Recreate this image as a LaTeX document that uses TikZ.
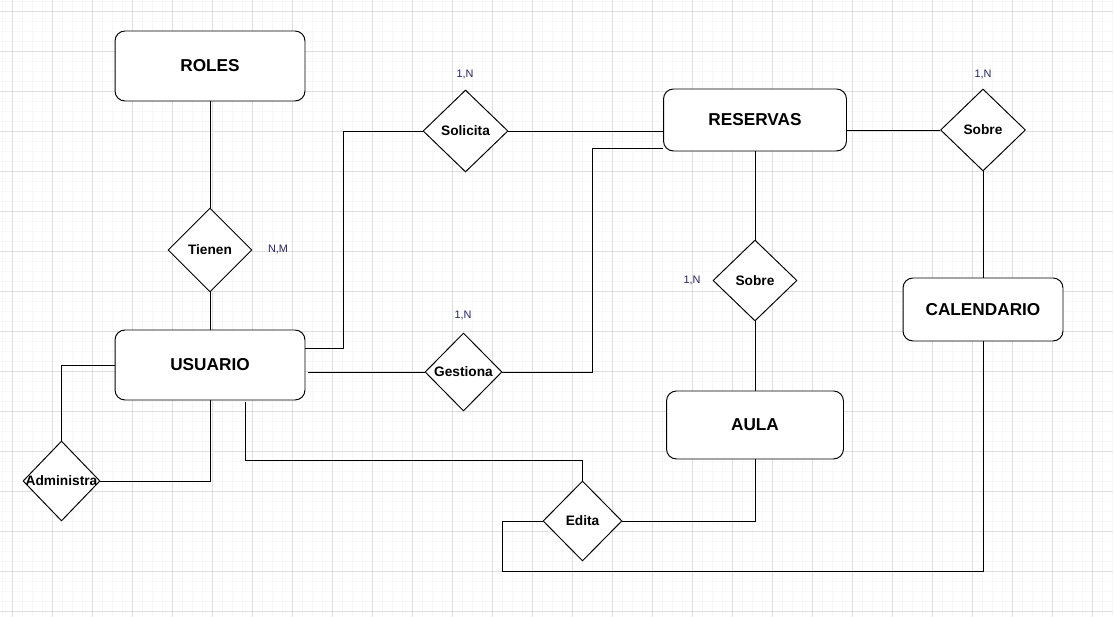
\documentclass[tikz,border=0pt]{standalone}
\usepackage{fontspec}
\setmainfont{Liberation Sans}
\usetikzlibrary{shapes.geometric}
\definecolor{gridmajor}{RGB}{222,222,222}
\definecolor{gridminor}{RGB}{247,247,247}
\definecolor{cardtext}{RGB}{36,36,104}
\begin{document}
\begin{tikzpicture}[x=0.02cm, y=-0.02cm, line width=0.55pt,
    entity/.style={draw, fill=white, rounded corners=2mm, inner sep=0pt,
        font=\fontsize{9.8}{12}\selectfont\bfseries},
    relation/.style={draw, fill=white, diamond, aspect=1, inner sep=0pt,
        font=\fontsize{7.8}{9}\selectfont\bfseries},
    card/.style={text=cardtext, inner sep=0pt, font=\fontsize{6.2}{7}\selectfont}]

    % Background grid
    \useasboundingbox (0,0) rectangle (1113,617);
    \fill[white] (0,0) rectangle (1113,617);
    \foreach \i in {0,...,111}
        \draw[gridminor, line width=0.5pt] (2.3+10*\i,0) -- ++(0,617);
    \foreach \i in {0,...,61}
        \draw[gridminor, line width=0.5pt] (0,1.3+10*\i) -- ++(1113,0);
    \foreach \i in {0,...,27}
        \draw[gridmajor, line width=0.5pt] (12.3+40*\i,0) -- ++(0,617);
    \foreach \i in {0,...,15}
        \draw[gridmajor, line width=0.5pt] (0,11.3+40*\i) -- ++(1113,0);

    % Entities
    \node[entity, minimum width=3.8cm, minimum height=1.4cm] (roles) at (210,66) {ROLES};
    \node[entity, minimum width=3.8cm, minimum height=1.4cm] (usuario) at (210,365) {USUARIO};
    \node[entity, minimum width=3.66cm, minimum height=1.24cm] (reservas) at (755,120) {RESERVAS};
    \node[entity, minimum width=3.2cm, minimum height=1.26cm] (calendario) at (983,309.5) {CALENDARIO};
    \node[entity, minimum width=3.54cm, minimum height=1.36cm] (aula) at (755,425) {AULA};

    % Relations
    \node[relation, minimum width=1.68cm, minimum height=1.68cm] (tienen) at (210,250) {Tienen};
    \node[relation, minimum width=1.7cm, minimum height=1.64cm] (solicita) at (465.5,131) {Solicita};
    \node[relation, minimum width=1.7cm, minimum height=1.64cm] (sobrecal) at (983,130) {Sobre};
    \node[relation, minimum width=1.68cm, minimum height=1.62cm] (sobreaula) at (755,280.5) {Sobre};
    \node[relation, minimum width=1.54cm, minimum height=1.56cm] (gestiona) at (463.5,372) {Gestiona};
    \node[relation, minimum width=1.54cm, minimum height=1.6cm] (administra) at (61.5,481) {\makebox[0pt]{Administra}};
    \node[relation, minimum width=1.58cm, minimum height=1.6cm] (edita) at (582.5,521) {Edita};

    % Cardinalities
    \node[card] (cardtienen) at (278,249) {N,M};
    \node[card] (cardsolicita) at (465,74) {1,N};
    \node[card] (cardsobrecal) at (983,74) {1,N};
    \node[card] (cardsobreaula) at (692,280) {1,N};
    \node[card] (cardgestiona) at (463,315) {1,N};

    % Bends
    \coordinate (solbend) at (343,348);
    \coordinate (gesbend) at (592,148);
    \coordinate (edibend) at (502,571);

    % Lines
    \draw (roles.south) -- (tienen.north);
    \draw (tienen.south) -- (usuario.north);
    \draw (solbend -| usuario.east) -- (solbend) |- (solicita.west);
    \draw (solicita.east) -- (solicita.east -| reservas.west);
    \draw ([xshift=0.6mm]usuario.east |- gestiona.west) -- (gestiona.west);
    \draw (gestiona.east) -| (gesbend) -- (gesbend -| reservas.west);
    \draw (reservas.south) -- (sobreaula.north);
    \draw (sobreaula.south) -- (aula.north);
    \draw (reservas.east |- sobrecal.west) -- (sobrecal.west);
    \draw (sobrecal.south) -- (calendario.north);
    \draw (calendario.south) |- (edibend) |- (edita.west);
    \draw (aula.south) |- (edita.east);
    \draw ([xshift=7mm, yshift=-0.4mm]usuario.south) |- ([yshift=4mm]edita.north) -- (edita.north);
    \draw (usuario.west) -| (administra.north);
    \draw (administra.east) -| (usuario.south);
\end{tikzpicture}
\end{document}
